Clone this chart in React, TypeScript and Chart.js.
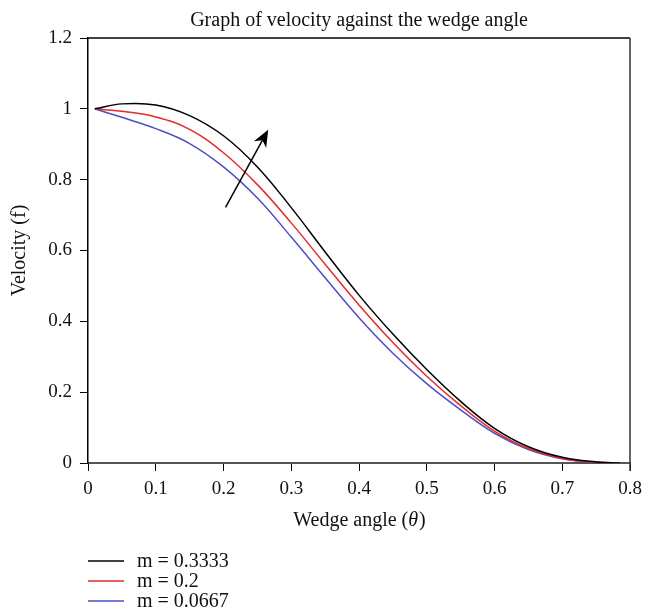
import React, { useEffect, useRef } from 'react';
import { Chart, registerables } from 'chart.js';

Chart.register(...registerables);

const thetaValues = [0.01, 0.05, 0.1, 0.15, 0.2, 0.25, 0.3, 0.35, 0.4, 0.45, 0.5, 0.55, 0.6, 0.65, 0.7, 0.75, 0.785];
const velocityM03333 = [1.0, 1.014, 1.011, 0.981, 0.924, 0.836, 0.721, 0.596, 0.474, 0.364, 0.264, 0.174, 0.098, 0.046, 0.016, 0.003, 0];
const velocityM02 = [1.0, 0.993, 0.977, 0.942, 0.876, 0.786, 0.678, 0.561, 0.446, 0.34, 0.245, 0.162, 0.09, 0.041, 0.013, 0.002, 0];
const velocityM00667 = [1.0, 0.976, 0.944, 0.902, 0.836, 0.748, 0.638, 0.523, 0.41, 0.31, 0.224, 0.15, 0.084, 0.038, 0.012, 0.002, 0];

const seriesLabels = ['m = 0.3333', 'm = 0.2', 'm = 0.0667'];
const seriesColors = ['#000000', '#e32b2b', '#4b4fc4'];
const seriesValues = [velocityM03333, velocityM02, velocityM00667];

const chartTitle = 'Graph of velocity against the wedge angle';
const xTitleParts = ['Wedge angle (', 'θ', ')'];
const yTitle = 'Velocity (f)';

// arrow annotation in data coordinates (direction of increasing m)
const arrowTail = { x: 0.203, y: 0.722 };
const arrowHead = { x: 0.266, y: 0.941 };

const FONT = "'Liberation Serif', 'DejaVu Serif', serif";

const decorPlugin = {
  id: 'decor',
  afterDraw(chart: any) {
    const { ctx, chartArea: ca, scales } = chart;
    const xs = scales.x;
    const ys = scales.y;
    ctx.save();

    // top and right border
    ctx.strokeStyle = '#000';
    ctx.lineWidth = 1.5;
    ctx.beginPath();
    ctx.moveTo(ca.left, ca.top);
    ctx.lineTo(ca.right, ca.top);
    ctx.stroke();
    ctx.strokeStyle = '#333';
    ctx.lineWidth = 1.5;
    ctx.beginPath();
    ctx.moveTo(ca.right, ca.top);
    ctx.lineTo(ca.right, ca.bottom + 8);
    ctx.stroke();

    // title
    ctx.fillStyle = '#111';
    ctx.font = `20px ${FONT}`;
    ctx.textAlign = 'center';
    ctx.textBaseline = 'alphabetic';
    ctx.fillText(chartTitle, (ca.left + ca.right) / 2, 26);

    // x title with italic theta
    const fs = 20;
    ctx.font = `${fs}px ${FONT}`;
    const w0 = ctx.measureText(xTitleParts[0]).width;
    ctx.font = `italic ${fs}px ${FONT}`;
    const w1 = ctx.measureText(xTitleParts[1]).width;
    ctx.font = `${fs}px ${FONT}`;
    const w2 = ctx.measureText(xTitleParts[2]).width;
    let tx = (ca.left + ca.right) / 2 - (w0 + w1 + w2) / 2;
    const ty = 526;
    ctx.textAlign = 'left';
    ctx.fillText(xTitleParts[0], tx, ty);
    tx += w0;
    ctx.font = `italic ${fs}px ${FONT}`;
    ctx.fillText(xTitleParts[1], tx, ty);
    tx += w1 + 1;
    ctx.font = `${fs}px ${FONT}`;
    ctx.fillText(xTitleParts[2], tx, ty);

    // y title
    ctx.save();
    ctx.translate(20, (ca.top + ca.bottom) / 2);
    ctx.rotate(-Math.PI / 2);
    ctx.textAlign = 'center';
    ctx.textBaseline = 'middle';
    ctx.font = `${fs}px ${FONT}`;
    ctx.fillText(yTitle, 0, 0);
    ctx.restore();

    // legend
    chart.data.datasets.forEach((ds: any, i: number) => {
      const cy = 561 + i * 20;
      ctx.strokeStyle = ds.borderColor;
      ctx.lineWidth = 1.5;
      ctx.beginPath();
      ctx.moveTo(ca.left, cy);
      ctx.lineTo(ca.left + 36, cy);
      ctx.stroke();
      ctx.fillStyle = '#111';
      ctx.font = `20px ${FONT}`;
      ctx.textAlign = 'left';
      ctx.textBaseline = 'middle';
      ctx.fillText(ds.label, ca.left + 49, cy + 1);
    });

    // arrow
    const x1 = xs.getPixelForValue(arrowTail.x);
    const y1 = ys.getPixelForValue(arrowTail.y);
    const x2 = xs.getPixelForValue(arrowHead.x);
    const y2 = ys.getPixelForValue(arrowHead.y);
    const ang = Math.atan2(y2 - y1, x2 - x1);
    const L = 17;
    const W = 7;
    const bx = x2 - L * Math.cos(ang);
    const by = y2 - L * Math.sin(ang);
    const ix = x2 - L * 0.7 * Math.cos(ang);
    const iy = y2 - L * 0.7 * Math.sin(ang);
    ctx.strokeStyle = '#000';
    ctx.fillStyle = '#000';
    ctx.lineWidth = 1.5;
    ctx.beginPath();
    ctx.moveTo(x1, y1);
    ctx.lineTo(ix, iy);
    ctx.stroke();
    ctx.beginPath();
    ctx.moveTo(x2, y2);
    ctx.lineTo(bx + W * Math.sin(ang), by - W * Math.cos(ang));
    ctx.lineTo(ix, iy);
    ctx.lineTo(bx - W * Math.sin(ang), by + W * Math.cos(ang));
    ctx.closePath();
    ctx.fill();

    ctx.restore();
  },
};

export default function App() {
  const canvasRef = useRef<HTMLCanvasElement | null>(null);

  useEffect(() => {
    if (!canvasRef.current) return;
    const datasets = seriesValues.map((vals, i) => ({
      label: seriesLabels[i],
      data: thetaValues.map((t, j) => ({ x: t, y: vals[j] })),
      borderColor: seriesColors[i],
      backgroundColor: seriesColors[i],
      borderWidth: 1.5,
      pointRadius: 0,
      fill: false,
      tension: 0.4,
    }));
    const chart = new Chart(canvasRef.current, {
      type: 'line',
      data: { datasets },
      options: {
        animation: false,
        responsive: false,
        layout: { padding: { top: 38, right: 22, left: 0, bottom: 0 } },
        plugins: {
          legend: { display: false },
          title: { display: false },
          tooltip: { enabled: false },
        },
        scales: {
          x: {
            type: 'linear',
            min: 0,
            max: 0.8,
            afterFit: (s: any) => {
              s.height = 151;
            },
            ticks: {
              stepSize: 0.1,
              color: '#111',
              font: { family: FONT, size: 19 },
              padding: 7,
              maxRotation: 0,
              callback: (v: any) => String(Number(Number(v).toFixed(1))),
            },
            grid: { drawOnChartArea: false, drawTicks: true, tickLength: 8, color: '#000', lineWidth: 1 },
            border: { display: true, color: '#555', width: 2 },
          },
          y: {
            type: 'linear',
            min: 0,
            max: 1.2,
            afterFit: (s: any) => {
              s.width = 88;
            },
            ticks: {
              stepSize: 0.2,
              color: '#111',
              font: { family: FONT, size: 19 },
              padding: 8,
              callback: (v: any) => String(Number(Number(v).toFixed(1))),
            },
            grid: { drawOnChartArea: false, drawTicks: true, tickLength: 8, color: '#000', lineWidth: 1 },
            border: { display: true, color: '#000', width: 1.5 },
          },
        },
      },
      plugins: [decorPlugin],
    });
    return () => chart.destroy();
  }, []);

  return (
    <div style={{ position: 'fixed', left: 0, top: 0, width: 652, height: 614, background: '#fff' }}>
      <canvas ref={canvasRef} width={652} height={614} style={{ display: 'block' }} />
    </div>
  );
}
